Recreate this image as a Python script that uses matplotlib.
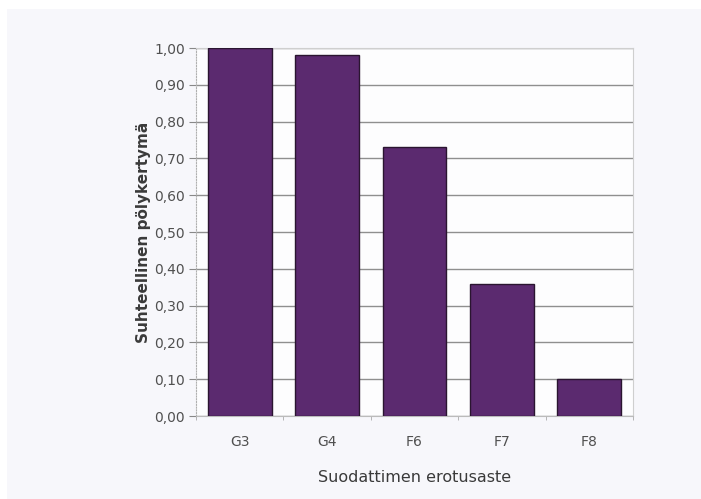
import matplotlib
matplotlib.use("Agg")
import matplotlib.pyplot as plt
from matplotlib.patches import Rectangle
import numpy as np

categories = ["G3", "G4", "F6", "F7", "F8"]
values = [1.00, 0.98, 0.73, 0.36, 0.10]
yticks = [0.0, 0.1, 0.2, 0.3, 0.4, 0.5, 0.6, 0.7, 0.8, 0.9, 1.0]
ytick_labels = ["0,00", "0,10", "0,20", "0,30", "0,40", "0,50",
                "0,60", "0,70", "0,80", "0,90", "1,00"]

W, H = 701, 499
fig = plt.figure(figsize=(W / 100, H / 100), dpi=100)
fig.patch.set_facecolor("#f7f7fb")

# thin white margin along the top and left edges
fig.add_artist(Rectangle((0, 1 - 9 / H), 1, 9 / H, transform=fig.transFigure,
                         facecolor="white", edgecolor="none", zorder=-5))
fig.add_artist(Rectangle((0, 0), 7 / W, 1, transform=fig.transFigure,
                         facecolor="white", edgecolor="none", zorder=-5))

ax = fig.add_axes([196 / W, 1 - 416 / H, (633 - 196) / W, (416 - 48) / H])
ax.set_facecolor("#fdfdfe")

x = np.arange(len(categories))
ax.bar(x, values, width=0.73, color="#5b2a6f", edgecolor="#2a1530",
       linewidth=1.0, zorder=3)

ax.set_xlim(-0.5, len(categories) - 0.5)
ax.set_ylim(0, 1.0)
ax.set_yticks(yticks)
ax.set_yticklabels(ytick_labels, fontsize=10, color="#505050",
                   family="DejaVu Sans")
ax.yaxis.grid(True, color="#8f8f8f", linewidth=1.0, zorder=1)
ax.set_axisbelow(True)

ax.set_xticks(x)
ax.set_xticklabels(categories, fontsize=10, color="#505050",
                   family="DejaVu Sans")
ax.tick_params(axis="x", length=0, pad=14)
ax.set_xticks(np.arange(-0.5, len(categories)), minor=True)
ax.tick_params(axis="x", which="minor", length=3, color="#aaaaaa",
               direction="out")
ax.tick_params(axis="y", length=5, color="#888888", pad=3)

for side in ["top", "right"]:
    ax.spines[side].set_color("#cfcfcf")
    ax.spines[side].set_linewidth(0.8)
ax.spines["left"].set_color("#b0b0b0")
ax.spines["left"].set_linestyle((0, (1, 1.5)))
ax.spines["left"].set_linewidth(0.8)
ax.spines["bottom"].set_color("#bbbbbb")
ax.spines["bottom"].set_linewidth(0.8)

ax.set_ylabel("Suhteellinen pölykertymä", fontsize=11, fontweight="bold",
              color="#3a3a3a", labelpad=2, family="DejaVu Sans")
ax.set_xlabel("Suodattimen erotusaste", fontsize=11.5, color="#3a3a3a",
              labelpad=15, family="DejaVu Sans")

fig.savefig("out.png", dpi=100, facecolor=fig.get_facecolor())
